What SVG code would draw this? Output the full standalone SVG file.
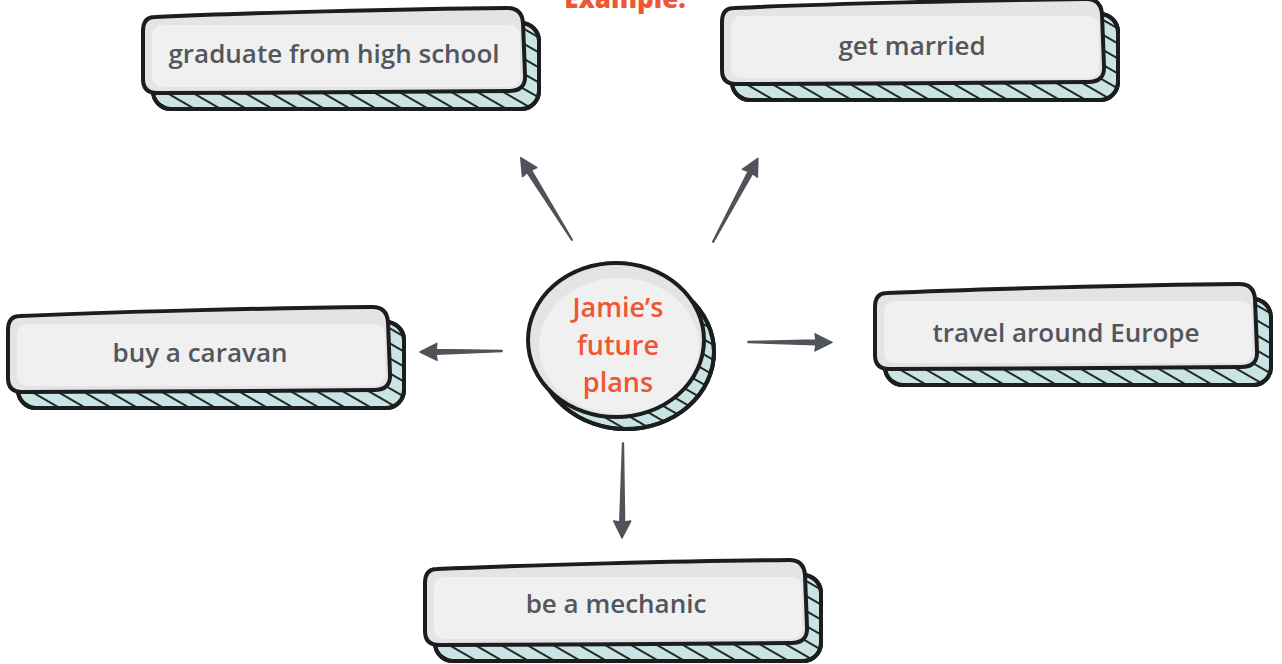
<svg xmlns="http://www.w3.org/2000/svg" xmlns:xlink="http://www.w3.org/1999/xlink" width="1282" height="664" viewBox="0 0 1282 664">
<style>
.outline{stroke:#1b1d1e;stroke-width:4;stroke-linejoin:round}
.depth{fill:#c9e4e2}
.hatchfill{fill:url(#hatch)}
.face{fill:#e4e4e4}
.inner{fill:#eff0ef}
.label{font-family:"Open Sans","Liberation Sans",sans-serif;font-weight:600;font-size:26px;fill:#53565c;text-anchor:middle}
.center{font-family:"Open Sans","Liberation Sans",sans-serif;font-weight:600;font-size:27px;fill:#ef5634;text-anchor:middle}
.title{font-family:"Open Sans","Liberation Sans",sans-serif;font-weight:800;font-size:26px;fill:#ef5634;text-anchor:middle}
.arrow{fill:#4f535a;stroke:#4f535a;stroke-width:1.5;stroke-linejoin:round}
</style>
<defs>
<pattern id="hatch" patternUnits="userSpaceOnUse" width="13" height="13" patternTransform="rotate(-60)">
<line x1="6" y1="0" x2="6" y2="13" stroke="#1b1d1e" stroke-width="1.9"/>
</pattern>
<g id="box">
<rect class="depth outline" x="10" y="12" width="386" height="86" rx="18"/>
<rect class="hatchfill" x="10" y="12" width="386" height="86" rx="18"/>
<rect fill="none" class="outline" x="10" y="12" width="386" height="86" rx="18"/>
<path class="face outline" d="M 12 6 C 100 2, 260 -2, 364 -3 Q 379 -3 380 12 L 382 64 Q 383 80 366 80 C 260 81, 120 82, 14 82 Q 0 82 0 68 L 0 20 Q 0 6 12 6 Z"/>
<rect class="inner" x="9" y="14" width="368" height="62" rx="10"/>
</g>
</defs>

<text class="title" x="625" y="8">Example:</text>

<g id="connectors">
<path class="arrow" transform="translate(572,240) rotate(-121.9)" d="M0,-0.4 L81,-2.4 L80,-8.5 L97,0 L80,8.5 L81,2.4 L0,0.4 Z"/>
<path class="arrow" transform="translate(713,242) rotate(-61.8)" d="M0,-0.4 L79,-2.4 L78,-8.5 L95,0 L78,8.5 L79,2.4 L0,0.4 Z"/>
<path class="arrow" transform="translate(502,351) rotate(179.3)" d="M0,-0.4 L66,-2.4 L65,-8.5 L82,0 L65,8.5 L66,2.4 L0,0.4 Z"/>
<path class="arrow" transform="translate(748,342) rotate(0.3)" d="M0,-0.4 L68,-2.4 L67,-8.5 L84,0 L67,8.5 L68,2.4 L0,0.4 Z"/>
<path class="arrow" transform="translate(623,443) rotate(90.6)" d="M0,-0.4 L79,-2.4 L78,-8.5 L95,0 L78,8.5 L79,2.4 L0,0.4 Z"/>
</g>

<g id="node-graduate">
<use xlink:href="#box" href="#box" transform="translate(143,11)"/>
<text class="label" x="334" y="63">graduate from high school</text>
</g>

<g id="node-married">
<use xlink:href="#box" href="#box" transform="translate(722,2)"/>
<text class="label" x="912" y="55">get married</text>
</g>

<g id="node-caravan">
<use xlink:href="#box" href="#box" transform="translate(8,310)"/>
<text class="label" x="200" y="362">buy a caravan</text>
</g>

<g id="node-europe">
<use xlink:href="#box" href="#box" transform="translate(875,287)"/>
<text class="label" x="1066" y="342">travel around Europe</text>
</g>

<g id="node-mechanic">
<use xlink:href="#box" href="#box" transform="translate(425,563)"/>
<text class="label" x="616" y="613">be a mechanic</text>
</g>

<g id="node-center">
<ellipse class="depth outline" cx="626" cy="352" rx="88" ry="77"/>
<ellipse class="hatchfill" cx="626" cy="352" rx="88" ry="77"/>
<ellipse fill="none" class="outline" cx="626" cy="352" rx="88" ry="77"/>
<ellipse class="face outline" cx="616" cy="340" rx="88" ry="77"/>
<ellipse class="inner" cx="619" cy="346" rx="80" ry="68"/>
<text class="center" x="618" y="317">Jamie’s</text>
<text class="center" x="618" y="355">future</text>
<text class="center" x="618" y="392">plans</text>
</g>
</svg>
